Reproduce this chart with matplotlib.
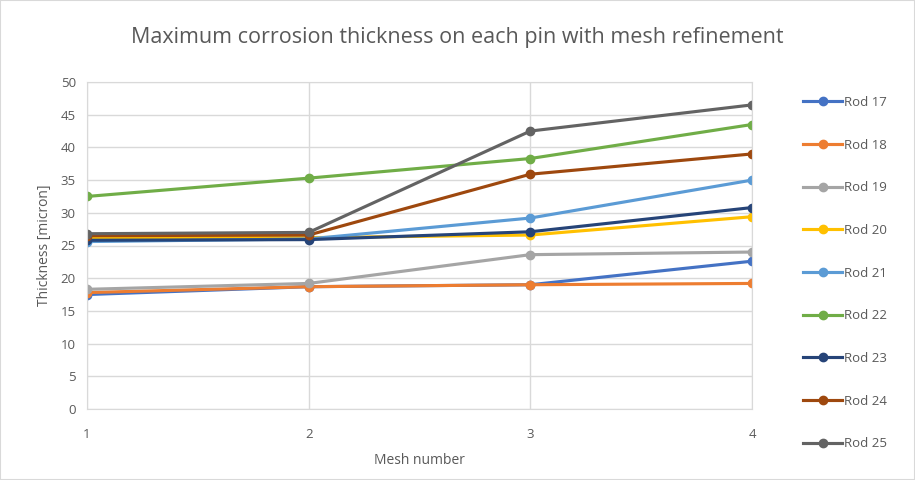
import matplotlib
matplotlib.use("Agg")
import matplotlib.pyplot as plt
from matplotlib.patches import Rectangle

mesh = [1, 2, 3, 4]
rod17 = [17.5, 18.7, 19.0, 22.6]
rod18 = [17.8, 18.7, 19.0, 19.2]
rod19 = [18.3, 19.2, 23.6, 24.0]
rod20 = [26.2, 26.2, 26.6, 29.4]
rod21 = [25.6, 26.0, 29.2, 35.0]
rod22 = [32.5, 35.3, 38.3, 43.5]
rod23 = [25.8, 25.9, 27.1, 30.8]
rod24 = [26.5, 26.6, 35.9, 39.0]
rod25 = [26.8, 27.0, 42.5, 46.5]
labels = ["Rod 17", "Rod 18", "Rod 19", "Rod 20", "Rod 21", "Rod 22", "Rod 23", "Rod 24", "Rod 25"]
series = [rod17, rod18, rod19, rod20, rod21, rod22, rod23, rod24, rod25]
colors = ["#4472C4", "#ED7D31", "#A5A5A5", "#FFC000", "#5B9BD5", "#70AD47", "#264478", "#9E480E", "#636363"]

plt.rcParams['font.family'] = ['Open Sans', 'DejaVu Sans']
txt = "#595959"

fig = plt.figure(figsize=(9.15, 4.8), dpi=100)
ax = fig.add_axes([87/915, 1-409/480, (752-87)/915, (409-82)/480])

for s, lab, c in zip(series, labels, colors):
    ax.plot(mesh, s, color=c, lw=2.25, marker='o', ms=6, label=lab)

ax.set_xlim(1, 4)
ax.set_ylim(0, 50)
ax.set_xticks(mesh)
ax.set_yticks(range(0, 51, 5))
ax.grid(True, color="#d9d9d9", lw=1)
ax.set_axisbelow(True)
for sp in ax.spines.values():
    sp.set_color("#d9d9d9")
ax.tick_params(axis='y', length=0, colors=txt, labelsize=9.5, pad=8)
ax.tick_params(axis='x', length=0, colors=txt, labelsize=9.5, pad=14)
ax.set_xlabel("Mesh number", color=txt, fontsize=10, labelpad=8)
ax.set_ylabel("Thickness [micron]", color=txt, fontsize=10, labelpad=6)
fig.text(0.5, 1-38/480, "Maximum corrosion thickness on each pin with mesh refinement",
         ha='center', va='center', fontsize=15.5, color=txt)

leg = ax.legend(loc='upper left', bbox_to_anchor=(791/915, 1-84/480), bbox_transform=fig.transFigure,
                frameon=False, labelspacing=2.25, handlelength=3.0, handletextpad=0.1,
                fontsize=9.5, labelcolor=txt)

fig.patches.append(Rectangle((0, 0), 1, 1, transform=fig.transFigure, fill=False,
                             edgecolor="#d9d9d9", lw=1.5))
fig.savefig("out.png", dpi=100)
